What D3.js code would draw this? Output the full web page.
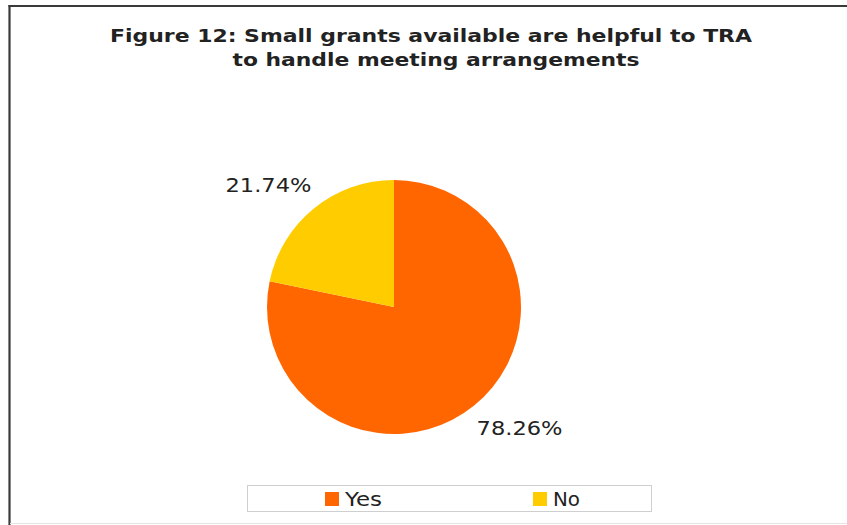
<!DOCTYPE html>
<html>
<head>
<meta charset="utf-8">
<script src="https://cdn.jsdelivr.net/npm/d3@7"></script>
<style>
  html, body { margin: 0; padding: 0; background: #fff; }
  svg { display: block; }
</style>
</head>
<body>
<svg id="chart" width="847" height="525"></svg>
<script>
// Survey answers: share of respondents
const categories = ["Yes", "No"];
const values = [78.26, 21.74];
const colors = ["#FF6600", "#FFCC00"];
const titleLines = [
  "Figure 12: Small grants available are helpful to TRA",
  "to handle meeting arrangements"
];

const svg = d3.select("#chart");
const W = 847, H = 525;
const FONT = "DejaVu Sans, Verdana, sans-serif";

// Frame
svg.append("rect").attr("width", W).attr("height", H).attr("fill", "#fff");
svg.append("line").attr("x1", 9.5).attr("x2", 9.5).attr("y1", 5).attr("y2", H)
  .attr("stroke", "#3a3a3a").attr("stroke-width", 2.2);
svg.append("line").attr("x1", 8.5).attr("x2", W).attr("y1", 6).attr("y2", 6)
  .attr("stroke", "#3a3a3a").attr("stroke-width", 2.2);
svg.append("line").attr("x1", 10).attr("x2", W).attr("y1", 523.5).attr("y2", 523.5)
  .attr("stroke", "#e4e4e4").attr("stroke-width", 1);

// Title
const titleSpec = [
  { x: 431, y: 42, len: 642 },
  { x: 436, y: 66, len: 407 }
];
svg.selectAll("text.title").data(titleLines).join("text")
  .attr("class", "title")
  .attr("x", (d, i) => titleSpec[i].x)
  .attr("y", (d, i) => titleSpec[i].y)
  .attr("text-anchor", "middle")
  .attr("textLength", (d, i) => titleSpec[i].len)
  .attr("lengthAdjust", "spacingAndGlyphs")
  .attr("font-family", FONT)
  .attr("font-weight", "bold")
  .attr("font-size", 18)
  .attr("fill", "#222")
  .text(d => d);

// Pie
const cx = 394, cy = 307, r = 127;
const data = categories.map((c, i) => ({ cat: c, value: values[i], color: colors[i] }));
const pie = d3.pie().value(d => d.value).sort(null);
const arc = d3.arc().innerRadius(0).outerRadius(r);
const arcs = pie(data);

const g = svg.append("g").attr("transform", `translate(${cx},${cy})`);
g.selectAll("path").data(arcs).join("path")
  .attr("d", arc)
  .attr("fill", d => d.data.color);

// Value labels on an ellipse around the pie, anchored away from it
const labelRx = r * 1.03, labelRy = r * 1.23;
const labelPos = d => {
  const a = (d.startAngle + d.endAngle) / 2;
  return [Math.sin(a) * labelRx, -Math.cos(a) * labelRy];
};
const fmt = v => v.toFixed(2) + "%";
g.selectAll("text.val").data(arcs).join("text")
  .attr("class", "val")
  .attr("transform", d => `translate(${labelPos(d)})`)
  .attr("text-anchor", d => labelPos(d)[0] < 0 ? "end" : "start")
  .attr("dy", "0.35em")
  .attr("textLength", 86)
  .attr("lengthAdjust", "spacingAndGlyphs")
  .attr("font-family", FONT)
  .attr("font-size", 19)
  .attr("fill", "#222")
  .text(d => fmt(d.data.value));

// Legend
const legend = svg.append("g");
legend.append("rect")
  .attr("x", 247.5).attr("y", 485.5).attr("width", 404).attr("height", 26)
  .attr("fill", "#fff").attr("stroke", "#cfcfcf").attr("stroke-width", 1);
const legendX = d3.scalePoint().domain(categories).range([325, 533]);
const items = legend.selectAll("g.item").data(data).join("g")
  .attr("class", "item")
  .attr("transform", d => `translate(${legendX(d.cat)},492)`);
items.append("rect").attr("width", 14).attr("height", 14).attr("fill", d => d.color);
items.append("text")
  .attr("x", 20).attr("y", 13.5)
  .attr("textLength", d => d.cat === "Yes" ? 37 : 27)
  .attr("lengthAdjust", "spacingAndGlyphs")
  .attr("font-family", FONT)
  .attr("font-size", 19)
  .attr("fill", "#222")
  .text(d => d.cat);
</script>
</body>
</html>
